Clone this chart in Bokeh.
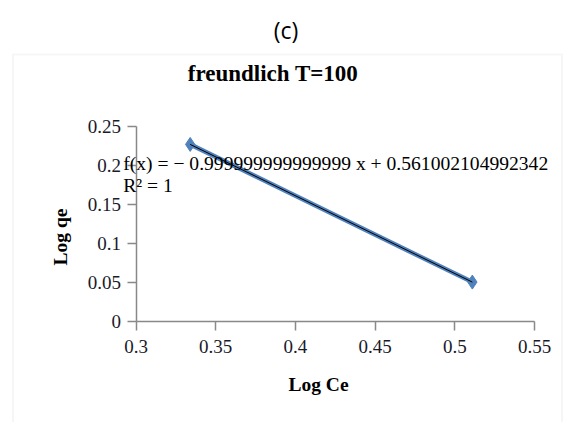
import math
import numpy as np
from bokeh.plotting import figure
from bokeh.models import Label, FixedTicker, ColumnDataSource, BoxAnnotation
from bokeh.embed import file_html
from bokeh.resources import INLINE

# data
log_ce = [0.334, 0.511]
log_qe = [0.227, 0.050]
x_ticks = [0.3, 0.35, 0.4, 0.45, 0.5, 0.55]
x_tick_labels = ["0.3", "0.35", "0.4", "0.45", "0.5", "0.55"]
y_ticks = [0, 0.05, 0.1, 0.15, 0.2, 0.25]
y_tick_labels = ["0", "0.05", "0.1", "0.15", "0.2", "0.25"]
equation = "f(x) = \u2212 0.999999999999999 x + 0.561002104992342"
r2_text = "R\u00b2 = 1"
title_text = "freundlich T=100"
panel_text = "(c)"
x_title = "Log Ce"
y_title = "Log qe"

W, H = 563, 422
# canvas pixel positions of the axis extents (frame covers the whole canvas)
PX_X0, PX_X1 = 135.5, 534.0     # x = 0.3 and x = 0.55
PX_Y0, PX_Y1 = 320.5, 126.0     # y = 0 and y = 0.25
xpp = (0.55 - 0.3) / (PX_X1 - PX_X0)
ypp = 0.25 / (PX_Y0 - PX_Y1)


def dx(px):
    return 0.3 + (px - PX_X0) * xpp


def dy(py):
    return (PX_Y0 - py) * ypp


p = figure(width=W, height=H, output_backend="svg", toolbar_location=None,
           x_range=(dx(0), dx(W)), y_range=(dy(H), dy(0)),
           min_border_left=0, min_border_right=0, min_border_top=0, min_border_bottom=0)
p.outline_line_color = None
p.xgrid.visible = False
p.ygrid.visible = False
p.background_fill_color = "white"
p.border_fill_color = "white"

serif = "Liberation Serif"
for ax, ticks, labels in ((p.xaxis[0], x_ticks, x_tick_labels), (p.yaxis[0], y_ticks, y_tick_labels)):
    ax.ticker = FixedTicker(ticks=ticks)
    ax.major_label_overrides = {t: l for t, l in zip(ticks, labels)}
    ax.minor_tick_line_color = None
    ax.major_tick_in = 0
    ax.major_tick_out = 9
    ax.axis_line_color = "#898989"
    ax.major_tick_line_color = "#898989"
    ax.axis_line_width = 1.5
    ax.major_tick_line_width = 1.5
    ax.major_label_text_font = serif
    ax.major_label_text_font_size = "19px"
    ax.major_label_text_color = "#1a1a2a"

p.xaxis.bounds = (0.3, 0.55)
p.yaxis.bounds = (0, 0.25)
p.xaxis.fixed_location = 0
p.yaxis.fixed_location = 0.3
p.xaxis.major_label_standoff = 10
p.yaxis.major_label_standoff = 6

# chart area outline box
p.add_layout(BoxAnnotation(left=dx(12.5), right=dx(561.5), top=dy(54), bottom=dy(H + 10),
                           fill_color=None, line_color="#e0e0e0", line_width=2))

src = ColumnDataSource(dict(x=log_ce, y=log_qe))
p.line("x", "y", source=src, line_color="#4f81bd", line_width=4.5)
p.scatter("x", "y", source=src, marker="diamond", size=14, fill_color="#4f81bd", line_color="#4f81bd")

# linear trendline from the data
k, b = np.polyfit(log_ce, log_qe, 1)
tx = [min(log_ce), max(log_ce)]
ty = [k * v + b for v in tx]
p.line(tx, ty, line_color="black", line_width=1)

p.add_layout(Label(x=dx(122.7), y=dy(162.8), text=equation, text_font=serif,
                   text_font_size="19.6px", text_baseline="middle", text_color="black"))
p.add_layout(Label(x=dx(122.7), y=dy(185), text=r2_text, text_font=serif,
                   text_font_size="19.6px", text_baseline="middle", text_color="black"))
p.add_layout(Label(x=dx(272.5), y=dy(73), text=title_text,
                   text_font=serif, text_font_style="bold", text_font_size="23px",
                   text_align="center", text_baseline="middle", text_color="black"))
p.add_layout(Label(x=dx(285.5), y=dy(29), text=panel_text,
                   text_font="Open Sans", text_font_size="23px",
                   text_align="center", text_baseline="middle", text_color="black"))
p.add_layout(Label(x=dx(318), y=dy(384), text=x_title,
                   text_font=serif, text_font_style="bold", text_font_size="19.5px",
                   text_align="center", text_baseline="middle", text_color="black"))
p.add_layout(Label(x=dx(60), y=dy(236.5), text=y_title, angle=math.pi / 2,
                   text_font=serif, text_font_style="bold", text_font_size="19.5px",
                   text_align="center", text_baseline="middle", text_color="black"))

open("out.html", "w").write(file_html(p, INLINE))
